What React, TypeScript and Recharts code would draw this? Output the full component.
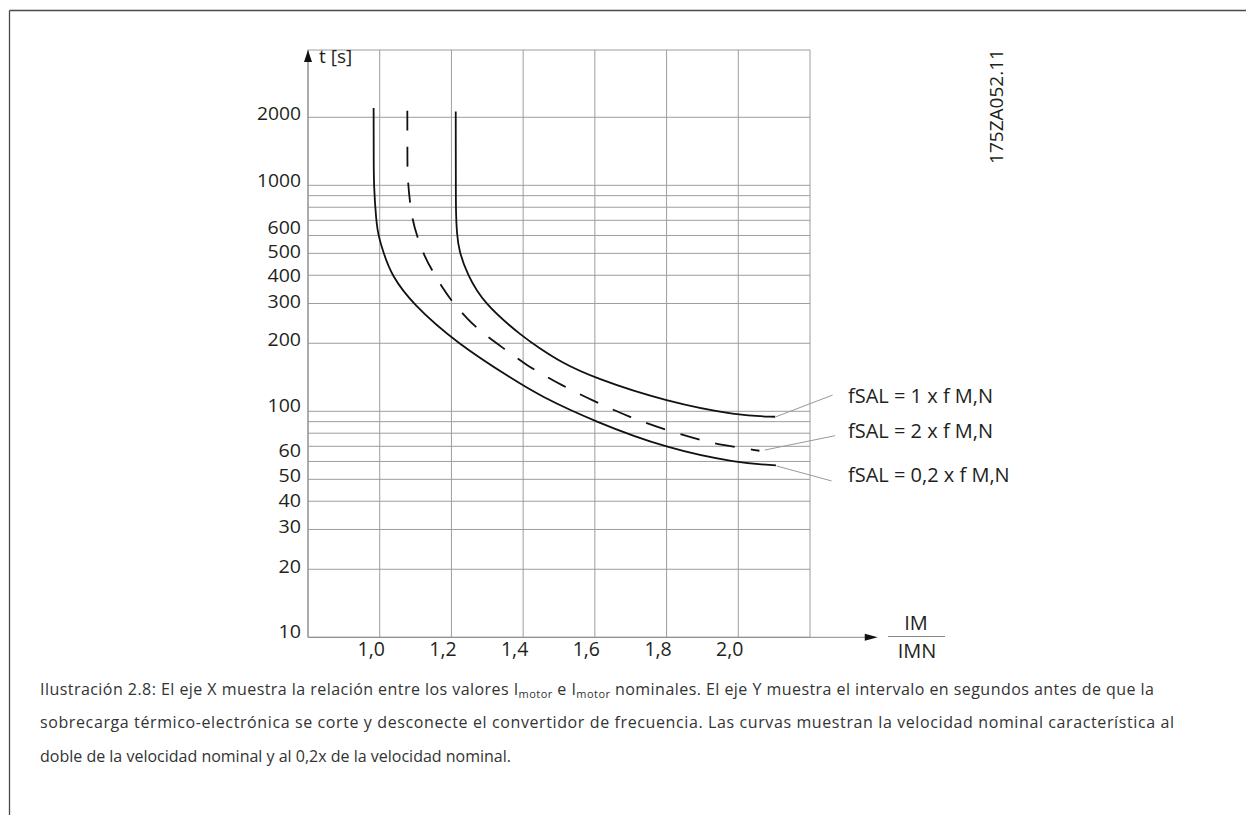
import React from 'react';
import { LineChart, Line, XAxis, YAxis, CartesianGrid, ReferenceLine, ReferenceDot } from 'recharts';

// ---- axis ticks ----
const xTicks = [0.8, 1.0, 1.2, 1.4, 1.6, 1.8, 2.0, 2.2];
const xTickLabels = ['', '1,0', '1,2', '1,4', '1,6', '1,8', '2,0', ''];
const yTicks = [10, 20, 30, 40, 50, 60, 70, 80, 90, 100, 200, 300, 400, 500, 600, 700, 800, 900, 1000, 2000];
const yLabeled = [10, 20, 30, 40, 50, 60, 100, 200, 300, 400, 500, 600, 1000, 2000];
const xDomain = [0.8, 2.2];
const yDomain = [10, 3970];

// ---- series: I_M / I_MN (x) vs t [s] (y) ----
// fSAL = 0,2 x f M,N (lowest solid curve)
const lowX = [0.983, 0.9831, 0.9833, 0.9835, 0.99, 0.996, 1.011, 1.033, 1.09, 1.215, 1.373, 1.447, 1.6, 1.8, 2.0, 2.105];
const lowY = [2200, 1700, 1300, 1000, 700, 600, 500, 400, 300, 200, 138, 117, 90, 68.5, 59, 57.7];
// fSAL = 2 x f M,N (dashed curve)
const midX = [1.077, 1.0771, 1.0773, 1.0775, 1.089, 1.105, 1.123, 1.148, 1.176, 1.205, 1.243, 1.282, 1.324, 1.368, 1.41, 1.455, 1.503, 1.6, 1.698, 1.798, 1.901, 1.953, 2.059];
const midY = [2140, 1700, 1300, 1056, 716, 592, 491, 415, 350, 301, 258, 225, 201, 179, 160, 145.5, 131.5, 110.3, 94.1, 82.6, 74.1, 71, 66.9];
// fSAL = 1 x f M,N (upper solid curve)
const highX = [1.212, 1.2121, 1.2123, 1.2125, 1.215, 1.221, 1.243, 1.289, 1.4, 1.447, 1.503, 1.6, 1.8, 2.0, 2.103];
const highY = [2120, 1500, 1000, 754, 617, 513, 408, 300.6, 213, 190, 165.8, 140, 110.3, 95.6, 94.6];

const seriesNames = ['fSAL = 1 x f M,N', 'fSAL = 2 x f M,N', 'fSAL = 0,2 x f M,N'];

// leader lines from curve ends to the labels (data coordinates)
const leader1 = [{ x: 2.105, y: 94.6 }, { x: 2.263, y: 118 }];
const leader2 = [{ x: 2.074, y: 67.4 }, { x: 2.27, y: 78 }];
const leader3 = [{ x: 2.107, y: 57.3 }, { x: 2.26, y: 49.2 }];

// axis extension (arrow) ends
const xAxisEnd = 2.356;
const xArrowTip = 2.389;

const zip = (xs: number[], ys: number[]) => xs.map((x, i) => ({ x, y: ys[i] }));
const lowData = zip(lowX, lowY);
const midData = zip(midX, midY);
const highData = zip(highX, highY);

// style: baseline nudge of each y tick label relative to its grid line (px)
const yLabelNudge: Record<number, number> = {
  10: 0.6, 20: 3.4, 30: 3.4, 40: 5.4, 50: 2.4, 60: -4.1, 100: 0.4, 200: 2.4, 300: 4.4, 400: 7.1, 500: 5.1, 600: -1.6, 1000: 1.7, 2000: 2.9,
};

const FONT = '"Open Sans", "Noto Sans", sans-serif';
const TEXT = '#231f20';

const YTick = (props: any) => {
  const { x, y, payload } = props;
  if (!yLabeled.includes(payload.value)) return null;
  const dy = yLabelNudge[payload.value] ?? 2.5;
  return (
    <text x={x} y={y + dy} textAnchor="end" fontSize={18} fontFamily={FONT} fill={TEXT} textLength={payload.value >= 1000 ? 44 : payload.value >= 100 ? 33.5 : 22.5} lengthAdjust="spacingAndGlyphs">
      {String(payload.value)}
    </text>
  );
};

const XTick = (props: any) => {
  const { x, y, payload } = props;
  const i = xTicks.indexOf(payload.value);
  const label = i >= 0 ? xTickLabels[i] : '';
  if (!label) return null;
  return (
    <text x={x - 8.5} y={y + 11} textAnchor="middle" fontSize={19.5} fontFamily={FONT} fill={TEXT}>
      {label}
    </text>
  );
};

const UpArrow = (p: any) => <path d={`M${p.cx},${p.cy} L${p.cx - 4},${p.cy + 12} L${p.cx + 4},${p.cy + 12} Z`} fill="#111" />;
const RightArrow = (p: any) => <path d={`M${p.cx},${p.cy} L${p.cx - 13},${p.cy - 3.5} L${p.cx - 13},${p.cy + 3.5} Z`} fill="#111" />;

export default function App() {
  return (
    <div style={{ position: 'absolute', left: 0, top: 0, width: 1246, height: 815, overflow: 'hidden', background: '#fff' }}>
      <div style={{ position: 'absolute', left: 0, top: 0 }}>
        <LineChart width={1246} height={815} margin={{ top: 50, right: 436, bottom: 147.7, left: 248 }}>
          <CartesianGrid stroke="#9d9d9d" strokeWidth={1} />
          <XAxis
            type="number"
            dataKey="x"
            domain={xDomain}
            ticks={xTicks}
            interval={0}
            allowDataOverflow
            axisLine={false}
            tickLine={false}
            tickSize={6}
            tickMargin={2}
            height={30}
            tick={<XTick />}
          />
          <YAxis
            type="number"
            dataKey="y"
            scale="log"
            domain={yDomain}
            ticks={yTicks}
            interval={0}
            allowDataOverflow
            axisLine={{ stroke: '#8a8a8a', strokeWidth: 1 }}
            tickLine={false}
            tickSize={5}
            tickMargin={2}
            width={60}
            tick={<YTick />}
          />
          <ReferenceLine segment={[{ x: 0.8, y: 10 }, { x: xAxisEnd, y: 10 }]} stroke="#8a8a8a" strokeWidth={1} ifOverflow="visible" />
          <ReferenceDot x={0.8} y={3970} ifOverflow="visible" shape={UpArrow} />
          <ReferenceDot x={xArrowTip} y={10} ifOverflow="visible" shape={RightArrow} />
          <ReferenceLine segment={leader1} stroke="#999" strokeWidth={1} ifOverflow="visible" />
          <ReferenceLine segment={leader2} stroke="#999" strokeWidth={1} ifOverflow="visible" />
          <ReferenceLine segment={leader3} stroke="#999" strokeWidth={1} ifOverflow="visible" />
          <Line data={highData} dataKey="y" name={seriesNames[0]} type="basis" stroke="#111" strokeWidth={1.8} dot={false} activeDot={false} isAnimationActive={false} />
          <Line data={midData} dataKey="y" name={seriesNames[1]} type="basis" stroke="#111" strokeWidth={1.8} strokeDasharray="20 16" dot={false} activeDot={false} isAnimationActive={false} />
          <Line data={lowData} dataKey="y" name={seriesNames[2]} type="basis" stroke="#111" strokeWidth={1.8} dot={false} activeDot={false} isAnimationActive={false} />
        </LineChart>
      </div>
      <svg width={1246} height={815} style={{ position: 'absolute', left: 0, top: 0, pointerEvents: 'none' }}>
        {/* frame */}
        <line x1={9.5} y1={10.5} x2={1246} y2={10.5} stroke="#4a4a4a" strokeWidth={1.3} />
        <line x1={9.5} y1={10.5} x2={9.5} y2={815} stroke="#4a4a4a" strokeWidth={1.3} />
        {/* axis titles */}
        <text x={319} y={63} fontSize={19} fontFamily={FONT} fill={TEXT}>t [s]</text>
        <text x={916} y={630} textAnchor="middle" fontSize={20} fontFamily={FONT} fill={TEXT}>IM</text>
        <line x1={888} y1={636.5} x2={945} y2={636.5} stroke="#888" strokeWidth={1} />
        <text x={917} y={658} textAnchor="middle" fontSize={20} fontFamily={FONT} fill={TEXT}>IMN</text>
        {/* series labels */}
        <text x={848} y={403} fontSize={20} fontFamily={FONT} fill={TEXT}>{seriesNames[0]}</text>
        <text x={848} y={438} fontSize={20} fontFamily={FONT} fill={TEXT}>{seriesNames[1]}</text>
        <text x={848} y={482} fontSize={20} fontFamily={FONT} fill={TEXT}>{seriesNames[2]}</text>
        {/* drawing code */}
        <text x={1003} y={106.5} textAnchor="middle" fontSize={19} fontFamily={FONT} fill={TEXT} transform="rotate(-90 1003 106.5)">175ZA052.11</text>
        {/* caption */}
        <g fontFamily={FONT} fontSize={16} fill="#333">
          <text x={40} y={695} textLength={1114} lengthAdjust="spacing">
            Ilustración 2.8: El eje X muestra la relación entre los valores I
            <tspan fontSize={11} dy={3}>motor</tspan>
            <tspan dy={-3}> e I</tspan>
            <tspan fontSize={11} dy={3}>motor</tspan>
            <tspan dy={-3}> nominales. El eje Y muestra el intervalo en segundos antes de que la</tspan>
          </text>
          <text x={40} y={728.3} textLength={1134} lengthAdjust="spacing">
            sobrecarga térmico-electrónica se corte y desconecte el convertidor de frecuencia. Las curvas muestran la velocidad nominal característica al
          </text>
          <text x={40} y={761.6} textLength={471} lengthAdjust="spacing">doble de la velocidad nominal y al 0,2x de la velocidad nominal.</text>
        </g>
      </svg>
    </div>
  );
}
